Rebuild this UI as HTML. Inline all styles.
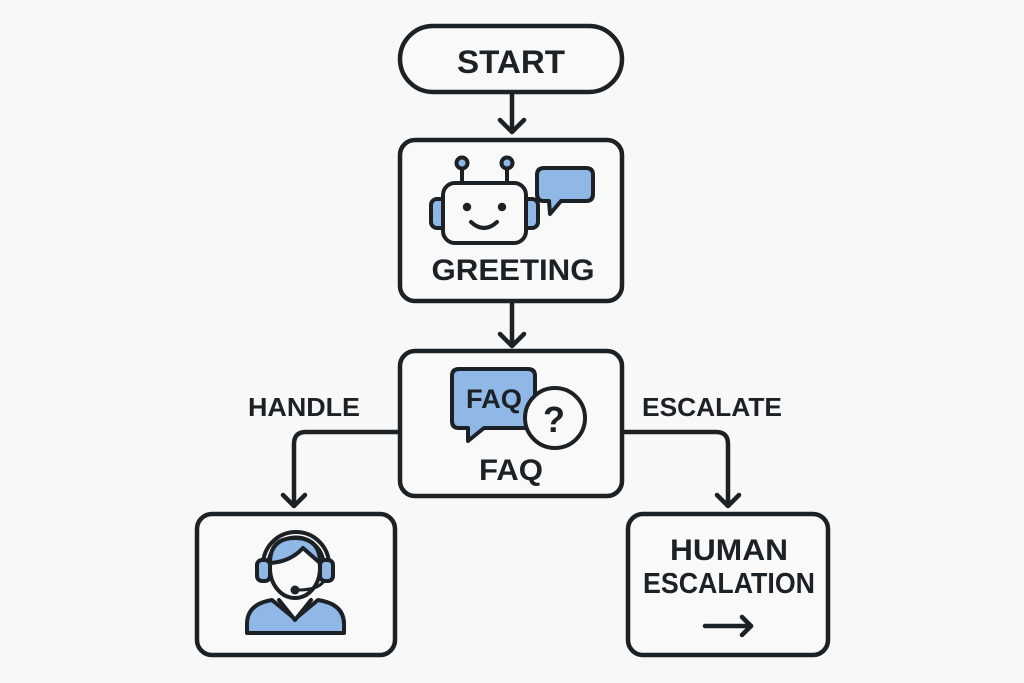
<!DOCTYPE html>
<html>
<head>
<meta charset="utf-8">
<style>
  html,body{margin:0;padding:0;background:#f8f8f8;}
  body{width:1024px;height:683px;overflow:hidden;}
  svg{display:block;}
  text{font-family:"Liberation Sans",Arial,sans-serif;font-weight:bold;fill:#1c2126;}
</style>
</head>
<body>
<svg width="1024" height="683" viewBox="0 0 1024 683" xmlns="http://www.w3.org/2000/svg">
  <rect width="1024" height="683" fill="#f8f8f8"/>
  <g fill="none" stroke="#1c2126" stroke-width="4.5" stroke-linecap="round" stroke-linejoin="round">
    <!-- START pill -->
    <rect x="400" y="26" width="222" height="66" rx="33" fill="#f9f9f9"/>
    <!-- arrow start->greeting -->
    <path d="M512 94 V131"/>
    <path d="M500 120 L512 132 L524 120"/>
    <!-- GREETING box -->
    <rect x="400" y="140" width="222" height="161" rx="15" fill="#f9f9f9"/>
    <!-- arrow greeting->faq -->
    <path d="M512 302 V345"/>
    <path d="M500 334 L512 346 L524 334"/>
    <!-- FAQ box -->
    <rect x="400" y="351" width="222" height="145" rx="15" fill="#f9f9f9"/>
    <!-- left connector -->
    <path d="M398 432 H306 Q294 432 294 444 V505"/>
    <path d="M283 495 L294 506 L305 495"/>
    <!-- right connector -->
    <path d="M624 432 H716 Q728 432 728 444 V505"/>
    <path d="M717 495 L728 506 L739 495"/>
    <!-- bottom boxes -->
    <rect x="197" y="514" width="198" height="141" rx="15" fill="#f9f9f9"/>
    <rect x="628" y="514" width="200" height="141" rx="15" fill="#f9f9f9"/>
    <!-- arrow in human box -->
    <path d="M705 626 H751"/>
    <path d="M742 617 L751 626 L742 635"/>
  </g>

  <!-- Robot icon -->
  <g stroke="#1c2126" stroke-width="4" stroke-linecap="round" stroke-linejoin="round">
    <line x1="462" y1="168" x2="462" y2="183"/>
    <line x1="507" y1="168" x2="507" y2="183"/>
    <circle cx="462" cy="163" r="5.5" fill="#8fb8e6"/>
    <circle cx="507" cy="163" r="5.5" fill="#8fb8e6"/>
    <rect x="431" y="199" width="16" height="29" rx="6" fill="#8fb8e6"/>
    <rect x="522" y="199" width="16" height="29" rx="6" fill="#8fb8e6"/>
    <rect x="443" y="183" width="83" height="60" rx="12" fill="#f9f9f9"/>
    <path d="M471 222 Q484 234 497 222" fill="none"/>
    <path d="M546 168 H586 Q593 168 593 175 V194 Q593 201 586 201 H561 L550 214 L549 201 H544 Q537 201 537 194 V175 Q537 168 544 168 Z" fill="#8fb8e6"/>
  </g>
  <circle cx="467" cy="207" r="4.2" fill="#1c2126"/>
  <circle cx="502" cy="207" r="4.2" fill="#1c2126"/>

  <!-- FAQ icon -->
  <g stroke="#1c2126" stroke-width="4" stroke-linejoin="round">
    <path d="M459 369 H528 Q535 369 535 376 V421 Q535 428 528 428 H484 L468 441 L468 428 H459 Q452 428 452 421 V376 Q452 369 459 369 Z" fill="#8fb8e6"/>
    <circle cx="555" cy="418" r="30" fill="#f9f9f9"/>
  </g>
  <text x="494" y="408" font-size="27" text-anchor="middle" textLength="56" lengthAdjust="spacingAndGlyphs">FAQ</text>
  <text x="554" y="432" font-size="36" text-anchor="middle">?</text>

  <!-- Headset person -->
  <g stroke="#1c2126" stroke-width="4" stroke-linejoin="round" stroke-linecap="round">
    <path d="M247 633 V624 Q247 604 272 600 L295 619 L318 600 Q344 604 344 624 V633 Z" fill="#8fb8e6"/>
    <path d="M279 600 L295 620 L311 600" fill="#f9f9f9"/>
    <ellipse cx="295" cy="568" rx="25" ry="30" fill="#f9f9f9"/>
    <path d="M270 563 Q270 538 295 538 Q320 538 320 563 Q312 556 303 548 Q290 562 270 563 Z" fill="#8fb8e6"/>
    <path d="M263 565 A33 33 0 0 1 329 565" fill="none"/>
    <path d="M268 565 A28 28 0 0 1 324 565" fill="none" stroke-width="3"/>
    <rect x="257" y="560" width="13" height="21" rx="5" fill="#8fb8e6"/>
    <rect x="320" y="560" width="13" height="21" rx="5" fill="#8fb8e6"/>
    <path d="M324 581 Q318 590 298 590" fill="none" stroke-width="3"/>
  </g>
  <circle cx="295" cy="590" r="4.5" fill="#1c2126"/>

  <!-- Labels -->
  <text x="511" y="73" font-size="32" text-anchor="middle" textLength="108" lengthAdjust="spacingAndGlyphs">START</text>
  <text x="513" y="280" font-size="30" text-anchor="middle" textLength="163" lengthAdjust="spacingAndGlyphs">GREETING</text>
  <text x="511" y="480" font-size="30" text-anchor="middle" textLength="64" lengthAdjust="spacingAndGlyphs">FAQ</text>
  <text x="304" y="416" font-size="26" text-anchor="middle" textLength="112" lengthAdjust="spacingAndGlyphs">HANDLE</text>
  <text x="712" y="416" font-size="26" text-anchor="middle" textLength="140" lengthAdjust="spacingAndGlyphs">ESCALATE</text>
  <text x="729" y="560" font-size="30" text-anchor="middle" textLength="118" lengthAdjust="spacingAndGlyphs">HUMAN</text>
  <text x="729" y="593" font-size="29" text-anchor="middle" textLength="172" lengthAdjust="spacingAndGlyphs">ESCALATION</text>
</svg>
</body>
</html>
